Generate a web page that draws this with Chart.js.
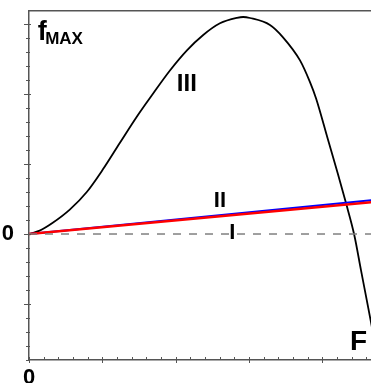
<!DOCTYPE html>
<html>
<head>
<meta charset="utf-8">
<script src="https://cdn.jsdelivr.net/npm/chart.js"></script>
<style>
    html, body { margin: 0; padding: 0; background: #fff; }
    #wrap { width: 371px; height: 383px; }
</style>
</head>
<body>
<div id="wrap"><canvas id="fmax-chart" width="371" height="383"></canvas></div>
<script>
// curve III
const curveX   = [0, 0.73, 1.62, 2.78, 3.94, 5.03, 6.19, 7.35, 8.44, 9.61, 10.77, 11.86, 13.02, 14.18, 14.6, 15.07, 16.43, 17.32, 18.48, 19.16, 19.57, 20.37, 21.05, 21.62, 22.18, 22.64, 23.1, 23.5];
const curveIII = [0, 0.24, 0.8, 1.74, 3.0, 4.6, 6.5, 8.38, 10.0, 11.68, 13.12, 14.2, 15.05, 15.44, 15.5, 15.43, 14.93, 14.05, 12.4, 10.85, 9.7, 6.8, 4.34, 2.19, -0.07, -2.6, -5.1, -7.3];
// straight lines I and II
const lineX  = [0, 23.4];
const lineI  = [0, 2.28];
const lineII = [0, 2.42];
const zeroX  = [0, 23.4];
const zeroY  = [0, 0];

const xMin = 0, xMax = 23.32;
const yMin = -9, yMax = 15.93;

const FONT = "'Liberation Sans', Arial, sans-serif";

const annotations = [
    {text: 'III', x: 10.76, y: 10.71, size: 24},
    {text: 'II',  x: 13.02, y: 2.36,  size: 22},
    {text: 'I',   x: 13.87, y: 0.07,  size: 22},
    {text: 'F',   x: 22.47, y: -7.71, size: 28}
];

function points(xs, ys) {
    return xs.map((x, i) => ({x: x, y: ys[i]}));
}

// small tick marks on both axes, longer every 5 steps
const axisTicks = {
    id: 'axisTicks',
    afterDraw(chart) {
        const ctx = chart.ctx;
        const area = chart.chartArea;
        const xs = chart.scales.x, ys = chart.scales.y;
        ctx.save();
        ctx.strokeStyle = '#555';
        ctx.lineWidth = 1;
        xs.ticks.forEach(t => {
            const px = Math.round(xs.getPixelForValue(t.value)) + 0.5;
            const major = t.value % 5 === 0;
            ctx.beginPath();
            ctx.moveTo(px, area.bottom - 3);
            ctx.lineTo(px, area.bottom + (major ? 3 : 0));
            ctx.stroke();
        });
        ys.ticks.forEach(t => {
            const py = Math.round(ys.getPixelForValue(t.value)) + 0.5;
            const major = t.value % 5 === 0;
            ctx.beginPath();
            ctx.moveTo(area.left - (major ? 5 : 3), py);
            ctx.lineTo(area.left + (major ? 2 : 1), py);
            ctx.stroke();
        });
        ctx.restore();
    }
};

// curve names and the f_MAX / F axis names
const curveLabels = {
    id: 'curveLabels',
    afterDraw(chart) {
        const ctx = chart.ctx;
        const xs = chart.scales.x, ys = chart.scales.y;
        ctx.save();
        ctx.fillStyle = '#000';
        ctx.textAlign = 'center';
        ctx.textBaseline = 'middle';
        annotations.forEach(a => {
            ctx.font = 'bold ' + a.size + 'px ' + FONT;
            ctx.fillText(a.text, xs.getPixelForValue(a.x), ys.getPixelForValue(a.y));
        });
        // f with subscript MAX
        const fx = xs.getPixelForValue(0.59), fy = ys.getPixelForValue(13.86);
        ctx.textAlign = 'left';
        ctx.textBaseline = 'alphabetic';
        ctx.font = 'bold 27px ' + FONT;
        ctx.fillText('f', fx, fy);
        const w = ctx.measureText('f').width;
        ctx.font = 'bold 17px ' + FONT;
        ctx.fillText('MAX', fx + w - 1.5, fy + 4);
        ctx.restore();
    }
};

function noPadding(scale) {
    scale.paddingTop = 0;
    scale.paddingBottom = 0;
    scale.paddingLeft = 0;
    scale.paddingRight = 0;
}

new Chart(document.getElementById('fmax-chart').getContext('2d'), {
    type: 'line',
    plugins: [axisTicks, curveLabels],
    data: {
        datasets: [
            {
                data: points(zeroX, zeroY),
                borderColor: '#808080',
                borderWidth: 1.5,
                borderDash: [8, 8],
                pointRadius: 0
            },
            {
                data: points(lineX, lineI),
                borderColor: '#ff0000',
                borderWidth: 2.5,
                pointRadius: 0
            },
            {
                data: points(lineX, lineII),
                borderColor: '#0000ff',
                borderWidth: 2,
                pointRadius: 0
            },
            {
                data: points(curveX, curveIII),
                borderColor: '#000',
                borderWidth: 1.8,
                pointRadius: 0,
                cubicInterpolationMode: 'monotone'
            }
        ]
    },
    options: {
        responsive: false,
        animation: false,
        layout: {padding: 0},
        plugins: {
            legend: {display: false},
            title: {display: false},
            tooltip: {enabled: false}
        },
        scales: {
            x: {
                type: 'linear',
                min: xMin,
                max: xMax,
                grid: {display: false},
                border: {display: true, color: '#555', width: 1.5},
                ticks: {
                    stepSize: 1,
                    includeBounds: false,
                    autoSkip: false,
                    maxRotation: 0,
                    padding: -3,
                    color: '#000',
                    font: {family: FONT, size: 22, weight: 'bold'},
                    callback: v => v === 0 ? '0' : ''
                },
                afterFit: scale => { scale.height = 23; noPadding(scale); }
            },
            top: {
                type: 'linear',
                position: 'top',
                min: xMin,
                max: xMax,
                grid: {display: false},
                border: {display: true, color: '#555', width: 1.5},
                ticks: {display: false},
                afterFit: scale => { scale.height = 11; noPadding(scale); }
            },
            y: {
                type: 'linear',
                min: yMin,
                max: yMax,
                grid: {display: false},
                border: {display: true, color: '#555', width: 1.5},
                ticks: {
                    stepSize: 1,
                    includeBounds: false,
                    autoSkip: false,
                    padding: 7,
                    color: '#000',
                    font: {family: FONT, size: 22, weight: 'bold'},
                    callback: v => v === 0 ? '0' : ''
                },
                afterFit: scale => { scale.width = 29; noPadding(scale); }
            }
        }
    }
});
</script>
</body>
</html>
